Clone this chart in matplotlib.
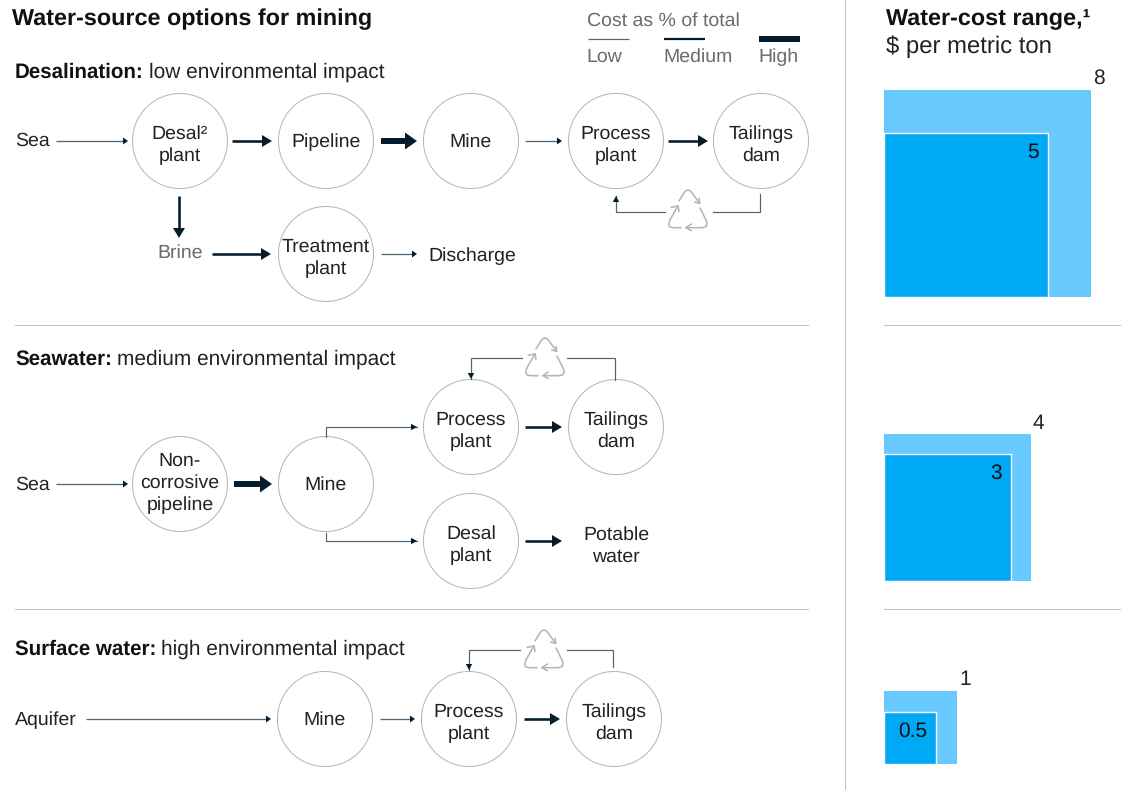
import matplotlib
matplotlib.use('Agg')
import matplotlib.pyplot as plt
from matplotlib.patches import Circle, Rectangle, Polygon, PathPatch
from matplotlib.path import Path
import numpy as np

plt.rcParams['font.family'] = ['Liberation Sans', 'DejaVu Sans']
plt.rcParams['text.hinting'] = 'no_hinting'

DARK = '#051c2c'
LOW = '#4f6676'
GREY = '#6b6b6b'
TEXT = '#222222'
RULE = '#bfbfbf'
LIGHT_BLUE = '#67c9fe'
BLUE = '#00a9f4'
BODY = 14.0

# cost squares: upper value, lower value, bottom edge in px
cost_high = [8, 4, 1]
cost_low = [5, 3, 0.5]
cost_labels_high = ['8', '4', '1']
cost_labels_low = ['5', '3', '0.5']
cost_bottom = [297, 581, 764]

# nodes: x, y, label
nodes = [
    (180, 141, 'Desal\u00b2\nplant'), (326, 141, 'Pipeline'), (471, 141, 'Mine'),
    (616, 141, 'Process\nplant'), (761, 141, 'Tailings\ndam'), (326, 254, 'Treatment\nplant'),
    (180, 484, 'Non-\ncorrosive\npipeline'), (326, 484, 'Mine'), (471, 427, 'Process\nplant'),
    (616, 427, 'Tailings\ndam'), (471, 541, 'Desal\nplant'),
    (325, 719, 'Mine'), (469, 719, 'Process\nplant'), (614, 719, 'Tailings\ndam'),
]
# plain labels: x, y, anchor, colour, text
labels = [
    (15, 141, 'left', TEXT, 'Sea'), (180, 253, 'center', GREY, 'Brine'),
    (428, 256, 'left', TEXT, 'Discharge'), (15, 485, 'left', TEXT, 'Sea'),
    (616, 546, 'center', TEXT, 'Potable\nwater'), (15, 720, 'left', TEXT, 'Aquifer'),
]
# arrows: weight, x0, y0, x1, y1
arrows = [
    ('low', 56, 141, 128, 141), ('med', 232, 141, 272, 141), ('high', 381, 141, 417, 141),
    ('low', 525, 141, 562, 141), ('med', 668, 141, 708, 141), ('med', 179, 196, 179, 238),
    ('med', 212, 254, 271, 254), ('low', 381, 254, 417, 254),
    ('low', 56, 484, 128, 484), ('high', 234, 484, 272, 484),
    ('med', 525, 427, 562, 427), ('med', 525, 541, 562, 541),
    ('low', 86, 719, 271, 719), ('low', 380, 719, 415, 719), ('med', 524, 719, 560, 719),
]
# elbow connectors, last point takes a head if flagged
elbows = [
    ([760, 760, 713], [194, 212, 212], False), ([665, 616, 616], [212, 212, 196], True),
    ([326, 326, 417], [437, 427, 427], True), ([326, 326, 417], [533, 541, 541], True),
    ([615, 615, 567], [380, 358, 358], False), ([522, 471, 471], [358, 358, 379], True),
    ([613, 613, 567], [667, 650, 650], False), ([520, 469, 469], [650, 650, 670], True),
]
recycle_at = [(688, 210), (545, 358), (544, 650)]
# headings: x, y, bold part, regular part
headings = [
    (15, 72, 'Desalination:', 'low environmental impact'),
    (15, 359, 'Seawater:', 'medium environmental impact'),
    (15, 649, 'Surface water:', 'high environmental impact'),
]

WEIGHTS = {'low': (1.3, 5, 3.5), 'med': (2.6, 10, 6), 'high': (6.0, 12, 8.5)}
# two line labels sit a little low in the circles
NODE_SHIFT = {1: 1, 2: 4, 3: -1}

fig = plt.figure(figsize=(11.23, 7.9), dpi=100)
ax = fig.add_axes([0, 0, 1, 1])
ax.set_xlim(0, 1123)
ax.set_ylim(790, 0)
ax.axis('off')


def px(w):
    return w * 0.72


def head(x0, y0, x1, y1, length, half, color=DARK):
    d = np.array([x1 - x0, y1 - y0], dtype=float)
    d /= np.hypot(*d)
    n = np.array([-d[1], d[0]])
    tip = np.array([x1, y1])
    base = tip - d * length
    ax.add_patch(Polygon([tip, base + n * half, base - n * half], closed=True,
                         fc=color, ec='none', zorder=3))


def arrow(weight, x0, y0, x1, y1):
    w, length, half = WEIGHTS[weight]
    color = LOW if weight == 'low' else DARK
    d = np.array([x1 - x0, y1 - y0], dtype=float)
    d /= np.hypot(*d)
    ax.plot([x0, x1 - d[0] * length], [y0, y1 - d[1] * length], color=color,
            lw=px(w), solid_capstyle='butt', zorder=2)
    head(x0, y0, x1, y1, length, half)


def recycle(cx, cy):
    parts = [
        [(-9, -9, Path.MOVETO), (-4, -17, Path.LINETO), (0, -23, Path.CURVE3), (4, -17, Path.CURVE3),
         (11.7, -6.7, Path.LINETO)],
        [(12, -2, Path.MOVETO), (17, 8, Path.LINETO), (23, 18, Path.CURVE3), (12, 17.7, Path.CURVE3),
         (-2, 17.7, Path.LINETO)],
        [(-7, 17.7, Path.MOVETO), (-13, 17.7, Path.LINETO), (-23, 18, Path.CURVE3), (-17, 8, Path.CURVE3),
         (-10, -4, Path.LINETO)],
    ]
    for part in parts:
        verts = [(cx + p[0], cy + p[1]) for p in part]
        ax.add_patch(PathPatch(Path(verts, [p[2] for p in part]), fc='none', ec='#b5b5b5',
                               lw=px(1.6), capstyle='round', joinstyle='round', zorder=2))
    barbs = [[(11.7, -6.7), (6.7, -8)], [(11.7, -6.7), (11, -11.7)], [(-2, 17.7), (3.3, 14)],
             [(-2, 17.7), (3.3, 20.7)], [(-10, -4), (-16.7, -2.7)], [(-10, -4), (-9, 1.7)]]
    for a, b in barbs:
        ax.plot([cx + a[0], cx + b[0]], [cy + a[1], cy + b[1]], color='#b5b5b5', lw=px(1.6),
                solid_capstyle='round', zorder=2)


def mixed(x, y, bold, regular, size=14.8):
    t = ax.text(x, y, bold, fontsize=size, fontweight='bold', color='#111111', va='center', ha='left')
    fig.canvas.draw()
    ext = t.get_window_extent()
    ax.text(ext.x1 + 5, y, regular, fontsize=15, color=TEXT, va='center', ha='left')


# rules
for y in (325, 609):
    ax.plot([15, 808], [y, y], color=RULE, lw=px(1))
    ax.plot([884, 1120], [y, y], color=RULE, lw=px(1))
ax.plot([845, 845], [0, 790], color=RULE, lw=px(1))

# headers
ax.text(12, 19, 'Water-source options for mining', fontsize=16.8, fontweight='bold', color='#111111',
        va='center', ha='left')
ax.text(886, 19, 'Water-cost range,\u00b9', fontsize=16.8, fontweight='bold', color='#111111',
        va='center', ha='left')
ax.text(886, 47, '$ per metric ton', fontsize=17.2, color=TEXT, va='center', ha='left')

# legend
ax.text(587, 21, 'Cost as % of total', fontsize=BODY, color=GREY, va='center', ha='left')
ax.plot([588, 629], [38.5, 38.5], color=LOW, lw=px(1.2), solid_capstyle='butt')
ax.plot([664, 705], [38.5, 38.5], color=DARK, lw=px(2.2), solid_capstyle='butt')
ax.plot([759, 800], [38.5, 38.5], color=DARK, lw=px(6), solid_capstyle='butt')
for x, s in zip((586, 663, 758), ('Low', 'Medium', 'High')):
    ax.text(x, 57, s, fontsize=BODY, color=GREY, va='center', ha='left')

for x, y, bold, regular in headings:
    mixed(x, y, bold, regular)

# diagram
for x, y, s in nodes:
    ax.add_patch(Circle((x, y), 47.5, fc='white', ec='#b5b5b5', lw=px(1), zorder=1))
    ax.text(x, y + NODE_SHIFT[s.count('\n') + 1], s, fontsize=BODY, color=TEXT, ha='center', va='center',
            linespacing=1.3, zorder=4)
for x, y, ha, c, s in labels:
    ax.text(x, y, s, fontsize=BODY, color=c, ha=ha, va='center', linespacing=1.3)
for a in arrows:
    arrow(*a)
for xs, ys, has_head in elbows:
    ax.plot(xs, ys, color=LOW, lw=px(1.2), solid_joinstyle='miter', zorder=2)
    if has_head:
        head(xs[-2], ys[-2], xs[-1], ys[-1], 6, 3.2)
for cx, cy in recycle_at:
    recycle(cx, cy)

# cost squares, area proportional to value
side = 73.3
x0 = 884
for hi, lo, lab_hi, lab_lo, bottom in zip(cost_high, cost_low, cost_labels_high, cost_labels_low, cost_bottom):
    s_hi = side * np.sqrt(hi)
    s_lo = side * np.sqrt(lo)
    ax.add_patch(Rectangle((x0, bottom - s_hi), s_hi, s_hi, fc=LIGHT_BLUE, ec='none'))
    ax.add_patch(Rectangle((x0, bottom - s_lo), s_lo, s_lo, fc=BLUE, ec='white', lw=px(1.4)))
    ax.text(x0 + s_hi + 2, bottom - s_hi - 11, lab_hi, fontsize=15, color=TEXT, ha='left', va='center')
    ax.text(x0 + s_lo - 9, bottom - s_lo + 19, lab_lo, fontsize=15, color='#111111', ha='right', va='center')

fig.savefig('out.png', dpi=100)
